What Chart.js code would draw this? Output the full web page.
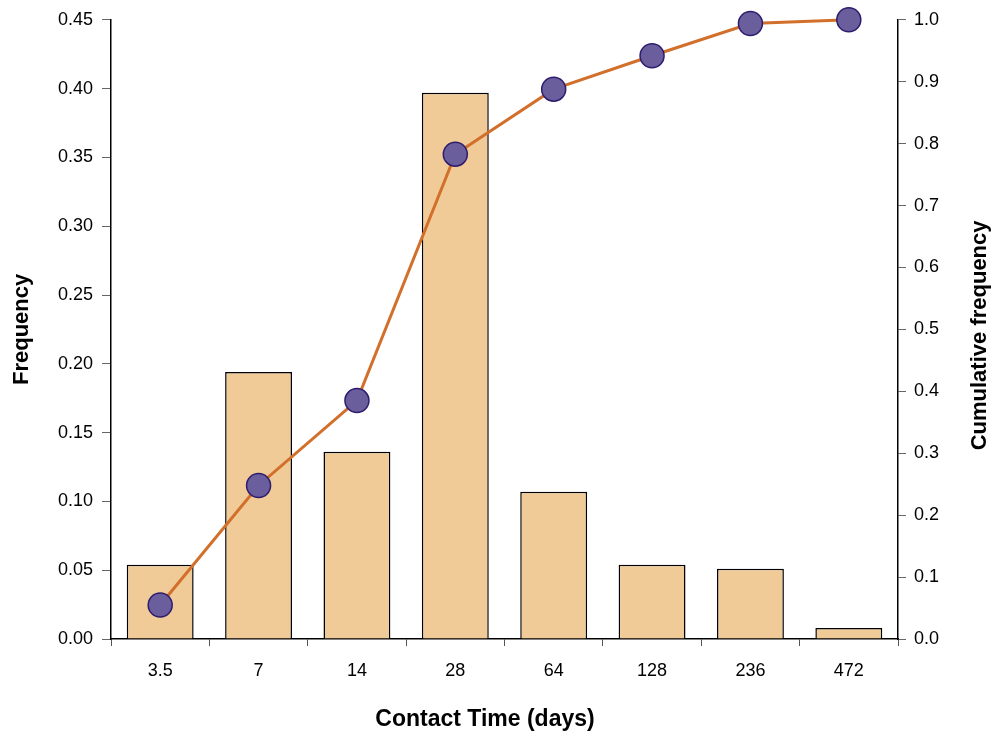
<!DOCTYPE html>
<html>
<head>
<meta charset="utf-8">
<script src="https://cdn.jsdelivr.net/npm/chart.js@4"></script>
<style>
  html, body { margin: 0; padding: 0; background: #fff; }
  #wrap { width: 995px; height: 736px; }
</style>
</head>
<body>
<div id="wrap"><canvas id="chartCanvas" width="995" height="736"></canvas></div>
<script>
// --- data ---
const contactTimes = ["3.5", "7", "14", "28", "64", "128", "236", "472"];
const frequency = [0.054, 0.194, 0.136, 0.397, 0.107, 0.054, 0.051, 0.008];
const cumulative = [0.055, 0.248, 0.385, 0.783, 0.888, 0.942, 0.994, 1.0];

const xTitle = "Contact Time (days)";
const yTitle = "Frequency";
const y1Title = "Cumulative frequency";

const font = "'Liberation Sans', Arial, sans-serif";
Chart.defaults.font.family = font;
Chart.defaults.color = "#000";

// axis titles drawn by hand so the right one reads bottom-to-top like the original
const axisTitles = {
  id: "axisTitles",
  afterDraw(chart) {
    const { ctx, chartArea } = chart;
    const midY = (chartArea.top + chartArea.bottom) / 2;
    ctx.save();
    ctx.fillStyle = "#000";
    ctx.textAlign = "center";
    ctx.textBaseline = "middle";

    ctx.font = "bold 23px " + font;
    ctx.fillText(xTitle, 485, 720);

    ctx.font = "bold 22px " + font;
    ctx.save();
    ctx.translate(22, midY);
    ctx.rotate(-Math.PI / 2);
    ctx.fillText(yTitle, 0, 0);
    ctx.restore();

    ctx.save();
    ctx.translate(980, midY + 6);
    ctx.rotate(-Math.PI / 2);
    ctx.fillText(y1Title, 0, 0);
    ctx.restore();

    ctx.restore();
  }
};

const canvas = document.getElementById("chartCanvas");

new Chart(canvas, {
  data: {
    labels: contactTimes,
    datasets: [
      {
        type: "line",
        label: "Cumulative frequency",
        data: cumulative,
        yAxisID: "y1",
        order: 0,
        clip: false,
        borderColor: "#d2702b",
        borderWidth: 3,
        tension: 0,
        pointRadius: 12,
        pointHoverRadius: 12,
        pointBackgroundColor: "#6a5e9c",
        pointBorderColor: "#2f1c6e",
        pointBorderWidth: 1.5
      },
      {
        type: "bar",
        label: "Frequency",
        data: frequency,
        yAxisID: "y",
        order: 1,
        backgroundColor: "#f0cb98",
        borderColor: "#000",
        borderWidth: 1.5,
        barPercentage: 0.68,
        categoryPercentage: 1
      }
    ]
  },
  options: {
    responsive: false,
    animation: false,
    layout: { padding: { top: 18, left: 0, right: 0, bottom: 0 } },
    plugins: {
      legend: { display: false },
      tooltip: { enabled: false }
    },
    scales: {
      x: {
        offset: true,
        grid: { offset: true, drawOnChartArea: false, drawTicks: true, tickLength: 7, color: "#555" },
        border: { display: true, color: "#000", width: 1.5 },
        ticks: { font: { size: 18 }, padding: 14, maxRotation: 0 },
        afterFit: s => { s.height = 97; }
      },
      y: {
        position: "left",
        min: 0,
        max: 0.45,
        grid: { drawOnChartArea: false, drawTicks: true, tickLength: 9, color: "#666" },
        border: { display: true, color: "#000", width: 1.5 },
        ticks: { stepSize: 0.05, font: { size: 18 }, padding: 9, callback: v => v.toFixed(2) },
        afterFit: s => { s.width = 111; }
      },
      y1: {
        position: "right",
        min: 0,
        max: 1.0,
        grid: { drawOnChartArea: false, drawTicks: true, tickLength: 8, color: "#666" },
        border: { display: true, color: "#000", width: 1.5 },
        ticks: { stepSize: 0.1, font: { size: 18 }, padding: 8, callback: v => v.toFixed(1) },
        afterFit: s => { s.width = 97; }
      }
    }
  },
  plugins: [axisTitles]
});
</script>
</body>
</html>
